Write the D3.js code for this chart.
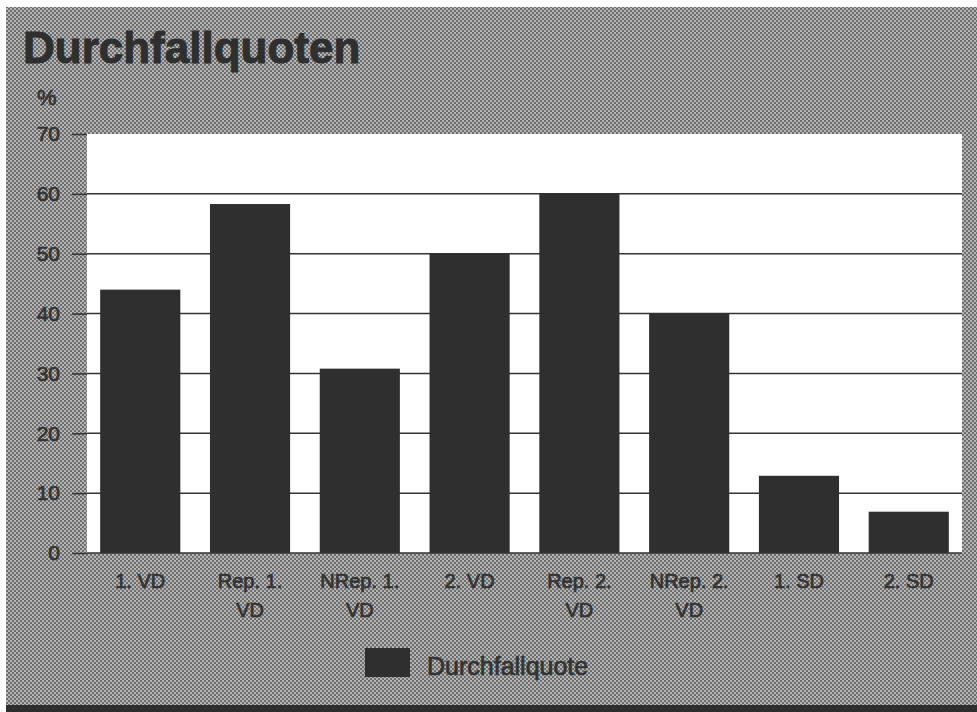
<!DOCTYPE html>
<html><head><meta charset="utf-8">
<script src="https://cdn.jsdelivr.net/npm/d3@7"></script>
<style>body{margin:0;background:#fff}svg{display:block}</style>
</head><body>
<svg id="c" width="977" height="712"></svg>
<script>
const categories = ["1. VD", "Rep. 1.|VD", "NRep. 1.|VD", "2. VD", "Rep. 2.|VD", "NRep. 2.|VD", "1. SD", "2. SD"];
const values = [44, 58.3, 30.8, 50, 60, 40, 12.9, 6.9];
const yTicks = [0, 10, 20, 30, 40, 50, 60, 70];
const title = "Durchfallquoten";
const unitLabel = "%";
const seriesName = "Durchfallquote";

const svg = d3.select("#c");
const defs = svg.append("defs");
const pat = defs.append("pattern").attr("id","ht").attr("width",4).attr("height",4).attr("patternUnits","userSpaceOnUse");
pat.append("rect").attr("width",4).attr("height",4).attr("fill","#8e8e8e");
pat.append("rect").attr("x",0).attr("y",0).attr("width",2).attr("height",2).attr("fill","#6e6e6e");
pat.append("rect").attr("x",2).attr("y",2).attr("width",2).attr("height",2).attr("fill","#6e6e6e");
pat.append("rect").attr("x",2).attr("y",0).attr("width",2).attr("height",2).attr("fill","#b4b4b4");
pat.append("rect").attr("x",0).attr("y",2).attr("width",2).attr("height",2).attr("fill","#b4b4b4");

// panel
svg.append("rect").attr("x",6).attr("y",7).attr("width",971).attr("height",700).attr("fill","url(#ht)");
svg.append("rect").attr("x",6).attr("y",705).attr("width",971).attr("height",7).attr("fill","#2e2e2e");

const font = "'Liberation Sans', Arial, Helvetica, sans-serif";
const ink = "#333";

svg.append("text").attr("x",23).attr("y",63).text(title)
  .attr("font-family",font).attr("font-weight","bold").attr("font-size",44).attr("fill","#2f2f2f")
  .attr("stroke","#2f2f2f").attr("stroke-width",1);

const plot = {l:87, r:962, t:134, b:553};
const x = d3.scaleBand().domain(categories).range([plot.l, plot.r]).paddingInner(0.27).paddingOuter(0.12);
const y = d3.scaleLinear().domain([0,70]).range([plot.b, plot.t]);

svg.append("rect").attr("x",plot.l).attr("y",plot.t).attr("width",plot.r-plot.l).attr("height",plot.b-plot.t).attr("fill","#fff");

// gridlines
svg.append("g").selectAll("line").data(yTicks.filter(d=>d>0 && d<70)).join("line")
  .attr("x1",plot.l).attr("x2",plot.r).attr("y1",d=>y(d)).attr("y2",d=>y(d))
  .attr("stroke","#333").attr("stroke-width",1.5);

// y axis
const yAxis = d3.axisLeft(y).tickValues(yTicks).tickSize(15).tickPadding(12);
const gy = svg.append("g").attr("transform",`translate(${plot.l},0)`).call(yAxis);
gy.select(".domain").remove();
gy.selectAll(".tick line").attr("stroke","#333").attr("stroke-width",1.5);
gy.selectAll(".tick text").attr("font-family",font).attr("font-size",21).attr("fill",ink)
  .attr("stroke",ink).attr("stroke-width",0.7);

svg.append("text").attr("x",37).attr("y",105).text(unitLabel)
  .attr("font-family",font).attr("font-size",22).attr("fill",ink).attr("stroke",ink).attr("stroke-width",0.7);

// bars
svg.append("g").selectAll("rect").data(values).join("rect")
  .attr("x",(d,i)=>x(categories[i])).attr("width",x.bandwidth())
  .attr("y",d=>y(d)).attr("height",d=>y(0)-y(d)).attr("fill","#2f2f2f");

// bottom baseline
svg.append("line").attr("x1",plot.l).attr("x2",plot.r).attr("y1",plot.b).attr("y2",plot.b).attr("stroke","#333").attr("stroke-width",1.5);

// x labels
const xAxis = d3.axisBottom(x).tickSize(0).tickFormat("");
const gx = svg.append("g").attr("transform",`translate(0,${plot.b})`).call(xAxis);
gx.select(".domain").remove();
gx.selectAll(".tick").each(function(d){
  const t = d3.select(this).append("text").attr("text-anchor","middle")
    .attr("font-family",font).attr("font-size",20).attr("fill",ink)
    .attr("stroke",ink).attr("stroke-width",0.7);
  d.split("|").forEach((s,k)=>{
    t.append("tspan").attr("x",0).attr("y",35+k*29).text(s);
  });
});

// legend
svg.append("rect").attr("x",365).attr("y",648).attr("width",45).attr("height",29).attr("fill","#2f2f2f");
svg.append("text").attr("x",427).attr("y",675).text(seriesName)
  .attr("font-family",font).attr("font-size",25).attr("fill",ink).attr("stroke",ink).attr("stroke-width",0.7);
</script>
</body></html>
